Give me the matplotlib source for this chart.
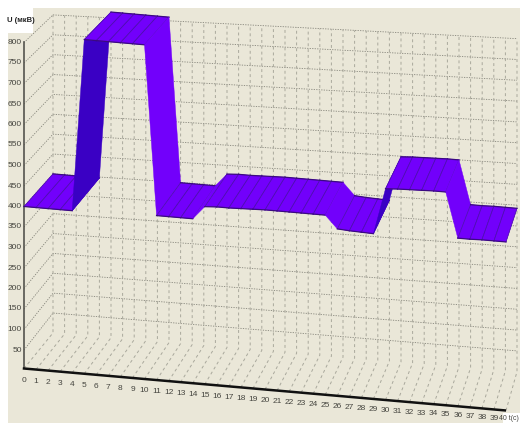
import matplotlib
matplotlib.use('Agg')
import matplotlib.pyplot as plt
from matplotlib.patches import Polygon, Rectangle

# sample index along the bottom axis
samples = list(range(41))
amplitude = [400, 400, 400, 400, 400,
             820, 820, 820, 820, 820, 820,
             406, 406, 406, 406,
             438, 440, 440, 441, 442, 443, 443, 443, 443, 443, 443,
             412, 410, 409, 408,
             520, 522, 523, 524, 525, 525,
             415, 415, 416, 416, 416]
y_ticks = list(range(50, 801, 50))
x_ticks = list(range(40))

BG = '#eae7d8'
BRIGHT = '#7200fb'
DARK = '#3a00c4'
EDGE = '#4a10a8'
GRID_H = '#85847a'
GRID_V = '#a9a89c'
LABEL = '#45453f'
FONT = ['Liberation Sans Narrow', 'Liberation Sans']


# oblique projection of (sample, value, depth 0..1) to picture pixels
def project(u, v, d=0):
    x = 24 + 12.05 * u + d * (29 - 0.45 * u)
    y = 370.5 + 1.05 * u - 0.41 * v - d * (37.6 - 0.0125 * v + 0.03 * u)
    return x, y


# the back wall leans a bit more than the ribbon's rear edge
def wall(u, v):
    x, y = project(u, v, 1)
    return x, y - u * (0.05 + 0.00047 * v)


fig = plt.figure(figsize=(5.2, 4.23), dpi=100)
ax = fig.add_axes([0, 0, 1, 1])
ax.set_xlim(0, 520)
ax.set_ylim(423, 0)
ax.axis('off')

# paper and white margins
fig.patch.set_facecolor('white')
ax.add_patch(Rectangle((8, 8), 512, 415, color=BG, lw=0, zorder=0))
ax.add_patch(Rectangle((8, 8), 25, 25, color='white', lw=0, zorder=0.5))
ax.add_patch(Rectangle((503, 413), 17, 10, color='white', lw=0, zorder=0.5))

# value lines: left wall and back wall
for v in y_ticks:
    a = project(0, v, 0)
    b = wall(0, v)
    c = wall(40, v)
    ax.plot([a[0], b[0], c[0]], [a[1], b[1], c[1]], color=GRID_H, lw=0.6, ls=(0, (1.5, 1.5)), zorder=1)

# sample lines: floor and back wall
for u in samples:
    a = project(u, 0, 0)
    b = wall(u, 0)
    c = wall(u, 800)
    ax.plot([a[0], b[0], c[0]], [a[1] - 2, b[1], c[1]], color=GRID_V, lw=0.7, ls=(0, (3, 3)), zorder=1)

# ribbon, left to right so later pieces cover earlier ones
for i in range(len(samples) - 1):
    u0, u1 = samples[i], samples[i + 1]
    v0, v1 = amplitude[i], amplitude[i + 1]
    pts = [project(u0, v0, 0), project(u0, v0, 1), project(u1, v1, 1), project(u1, v1, 0)]
    color = DARK if v1 - v0 > 50 else BRIGHT
    ax.add_patch(Polygon(pts, closed=True, fc=color, ec=color, lw=0.3, zorder=2 + i * 0.01))
    if abs(v1 - v0) < 20:
        for p, q in [(pts[0], pts[1]), (pts[3], pts[2])]:
            ax.plot([p[0], q[0]], [p[1], q[1]], color=EDGE, lw=0.5, zorder=2 + i * 0.01)
        for p, q in [(pts[0], pts[3]), (pts[1], pts[2])]:
            ax.plot([p[0], q[0]], [p[1], q[1]], color='#3a0a80', lw=0.9, zorder=2 + i * 0.01)

# axes
x0, y0 = project(0, 0)
x1, y1 = project(39.9, 0)
ax.plot([x0, x1], [y0 - 2, y1 - 2], color='#111111', lw=1.8, zorder=3)
top = project(0, 800)
ax.plot([x0, top[0]], [y0 - 2, top[1]], color='#55544e', lw=1.2, zorder=1.5)

# tick labels
for v in y_ticks:
    x, y = project(0, v)
    ax.text(x - 2, y, str(v), ha='right', va='center', fontsize=6,
            family=FONT, color=LABEL, zorder=4)
for u in x_ticks:
    x, y = project(u, 0)
    ax.text(x, y + 10.5 - 0.08 * u, str(u), ha='center', va='center', fontsize=6,
            family=FONT, color=LABEL, zorder=4)
ax.text(21, 20, 'U (мкВ)', ha='center', va='center', fontsize=5.5, fontweight='bold',
        family=FONT, color='#222222', zorder=4)
ax.text(519, 418, '40 t(c)', ha='right', va='center', fontsize=5,
        family=FONT, color=LABEL, zorder=4)

fig.savefig('out.png', dpi=100)
